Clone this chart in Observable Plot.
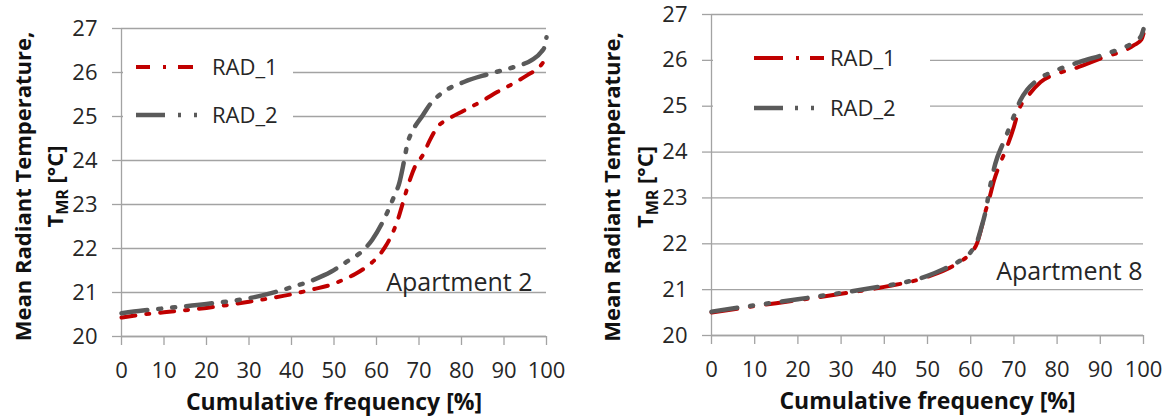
<!DOCTYPE html>
<html><head><meta charset="utf-8">
<script src="https://cdn.jsdelivr.net/npm/d3@7"></script>
<script src="https://cdn.jsdelivr.net/npm/@observablehq/plot@0.6"></script>
<style>
html,body{margin:0;padding:0;background:#fff;}
#wrap{display:flex;width:1170px;height:416px;}
#wrap > div{width:585px;height:416px;}
</style></head>
<body><div id="wrap"><div id="c1"></div><div id="c2"></div></div>
<script>
// ---- tick labels & texts ----
const xTicks = [0, 10, 20, 30, 40, 50, 60, 70, 80, 90, 100];
const yTicks = [20, 21, 22, 23, 24, 25, 26, 27];
const seriesNames = ["RAD_1", "RAD_2"];
const panelLabels = ["Apartment 2", "Apartment 8"];
const xTitle = "Cumulative frequency [%]";
const yTitle1 = "Mean Radiant Temperature,";
const yTitle2 = "TMR [°C]";
const yTitle2Sub = "MR";

// ---- Apartment 2 ----
const apt2Rad1X = [0, 5, 10, 20, 30, 40, 45, 50, 52.4, 55, 58, 60, 62, 64, 65, 66, 67, 68, 69, 71, 72.5, 74.5, 76.5, 80.5, 85, 88.5, 92, 95.5, 98, 99, 100];
const apt2Rad1Y = [20.43, 20.5, 20.55, 20.65, 20.79, 20.96, 21.07, 21.2, 21.3, 21.42, 21.61, 21.78, 22.03, 22.4, 22.65, 22.97, 23.3, 23.6, 23.85, 24.14, 24.45, 24.78, 24.92, 25.13, 25.36, 25.56, 25.74, 25.94, 26.1, 26.2, 26.38];
const apt2Rad2X = [0, 5, 10, 20, 30, 35, 40, 45, 49.3, 53, 57.2, 59, 62, 64.2, 65.4, 66.2, 66.7, 67.2, 68.6, 70.9, 72.7, 75.2, 80.7, 86.2, 92.5, 96.5, 98.8, 99.6, 100];
const apt2Rad2Y = [20.53, 20.59, 20.64, 20.74, 20.87, 20.98, 21.12, 21.28, 21.47, 21.7, 21.99, 22.2, 22.71, 23.2, 23.5, 23.85, 24.1, 24.35, 24.69, 25.03, 25.29, 25.52, 25.79, 25.96, 26.13, 26.28, 26.47, 26.6, 26.8];

// ---- Apartment 8 ----
const apt8Rad1X = [0, 10, 20, 30, 40, 50, 57, 60, 61.5, 62.5, 63.4, 64.2, 65.4, 66.8, 68.1, 70, 71.1, 73.1, 76.2, 80, 83.9, 90, 97.8, 99.5, 100];
const apt8Rad1Y = [20.5, 20.64, 20.77, 20.91, 21.06, 21.28, 21.58, 21.8, 22.02, 22.35, 22.7, 22.95, 23.38, 23.75, 24.04, 24.55, 24.91, 25.2, 25.53, 25.71, 25.82, 26.04, 26.33, 26.45, 26.58];
const apt8Rad2X = [0, 10, 20, 30, 40, 43.7, 50, 53.8, 57, 60, 61.5, 62.3, 63.4, 64.6, 65.7, 67.3, 68.4, 70.4, 71.5, 73.1, 75.4, 80, 85.4, 91.6, 97.8, 99.4, 100];
const apt8Rad2Y = [20.52, 20.66, 20.79, 20.93, 21.08, 21.14, 21.3, 21.45, 21.6, 21.82, 22.05, 22.3, 22.69, 23.3, 23.75, 24.15, 24.4, 24.88, 25.13, 25.36, 25.57, 25.79, 25.97, 26.15, 26.4, 26.52, 26.68];

const RED = "#c00000", GRAY = "#5a5a5a", GRID = "#a3a3a3", TXT = "#262626";
const FONT = "'Open Sans', 'Noto Sans', sans-serif";

function makeChart(cfg) {
  const d1 = cfg.x1.map((x, i) => ({x, y: cfg.y1[i]}));
  const d2 = cfg.x2.map((x, i) => ({x, y: cfg.y2[i]}));
  const plot = Plot.plot({
    width: 585, height: 416,
    marginLeft: cfg.ml, marginRight: cfg.mr, marginTop: cfg.mt, marginBottom: cfg.mb,
    style: {fontFamily: FONT, fontSize: "22px", color: TXT, background: "#fff"},
    x: {domain: [0, 100]},
    y: {domain: [20, 27]},
    marks: [
      Plot.gridY(yTicks, {stroke: GRID, strokeOpacity: 1, strokeWidth: 1.3}),
      Plot.axisY(yTicks, {tickSize: 9, tickPadding: 15, stroke: GRID, strokeOpacity: 1, strokeWidth: 1.3, fill: TXT, fontSize: 22, label: null, tickFormat: d => String(d)}),
      Plot.axisX(xTicks, {tickSize: 9, tickPadding: 17, stroke: GRID, strokeOpacity: 1, strokeWidth: 1.3, fill: TXT, fontSize: 22, label: null, tickFormat: d => String(d)}),
      Plot.ruleX([0], {stroke: GRID, strokeWidth: 1.3}),
      Plot.ruleY([20], {stroke: GRID, strokeWidth: 1.3}),
      Plot.line(d1, {x: "x", y: "y", stroke: RED, strokeWidth: 4, strokeDasharray: cfg.dash1, curve: "monotone-x"}),
      Plot.line(d2, {x: "x", y: "y", stroke: GRAY, strokeWidth: 4.5, strokeDasharray: cfg.dash2, curve: "monotone-x"}),
      Plot.text([cfg.label], {text: d => d, frameAnchor: "bottom-right", textAnchor: "end", lineAnchor: "middle", dx: cfg.ldx, dy: cfg.ldy, fontSize: 25, fill: TXT}),
      Plot.text([xTitle], {text: d => d, frameAnchor: "bottom", textAnchor: "middle", lineAnchor: "middle", dy: 66, fontWeight: "bold", fontSize: 23, fill: "#111"}),
      Plot.text([yTitle1], {text: d => d, frameAnchor: "left", textAnchor: "middle", lineAnchor: "middle", dx: cfg.t1dx, dy: cfg.tdy, rotate: -90, fontWeight: "bold", fontSize: 22, fill: "#111"}),
      Plot.text([yTitle2], {text: d => d, frameAnchor: "left", textAnchor: "middle", lineAnchor: "middle", dx: cfg.t2dx, dy: cfg.tdy, rotate: -90, fontWeight: "bold", fontSize: 22, fill: "#111", className: "ysub"})
    ]
  });
  const svg = d3.select(plot);
  // subscript in the second y-title line
  svg.selectAll(".ysub text").each(function() {
    const t = d3.select(this);
    const s = t.text();
    const i = s.indexOf(yTitle2Sub);
    t.text(null);
    t.append("tspan").text(s.slice(0, i));
    t.append("tspan").attr("font-size", 16).attr("dy", 5).text(yTitle2Sub);
    t.append("tspan").attr("dy", -5).text(s.slice(i + yTitle2Sub.length));
  });
  // legend
  const L = cfg.legend;
  const g = svg.append("g").attr("text-anchor", "start");
  g.append("rect").attr("x", L.bx).attr("y", L.by).attr("width", L.bw).attr("height", L.bh).attr("fill", "#fff");
  const items = [
    {name: seriesNames[0], color: RED, w: 4, dash: L.dash1, x2: L.x2a, y: L.y1},
    {name: seriesNames[1], color: GRAY, w: 4.5, dash: L.dash2, x2: L.x2b, y: L.y2}
  ];
  items.forEach(it => {
    g.append("line").attr("x1", L.sx).attr("x2", it.x2).attr("y1", it.y).attr("y2", it.y)
      .attr("stroke", it.color).attr("stroke-width", it.w).attr("stroke-dasharray", it.dash);
    g.append("text").attr("x", L.tx).attr("y", it.y).attr("dy", "0.35em").attr("text-anchor", "start")
      .attr("font-family", FONT).attr("font-size", 22).attr("fill", TXT).text(it.name);
  });
  return plot;
}

document.getElementById("c1").appendChild(makeChart({
  x1: apt2Rad1X, y1: apt2Rad1Y, x2: apt2Rad2X, y2: apt2Rad2Y,
  ml: 121, mr: 39, mt: 28, mb: 80,
  dash1: "14,11,3,11", dash2: "26,11,3,11,3,11",
  label: panelLabels[0], ldx: -14, ldy: -54,
  t1dx: -98, t2dx: -66, tdy: 4,
  legend: {bx: 123, by: 40, bw: 170, bh: 100, sx: 136, x2a: 193, x2b: 198, y1: 67, y2: 115, tx: 212,
           dash1: "14,13,3,12,15", dash2: "29,13,3,13,3"}
}));
document.getElementById("c2").appendChild(makeChart({
  x1: apt8Rad1X, y1: apt8Rad1Y, x2: apt8Rad2X, y2: apt8Rad2Y,
  ml: 126, mr: 27, mt: 14, mb: 81,
  dash1: "26,13,3,13", dash2: "26,13,3,13,3,13",
  label: panelLabels[1], ldx: -1, ldy: -64,
  t1dx: -99, t2dx: -66, tdy: 12,
  legend: {bx: 128, by: 30, bw: 217, bh: 100, sx: 169, x2a: 239, x2b: 230, y1: 58, y2: 108, tx: 245,
           dash1: "29,13,3,11,14", dash2: "29,12,3,13,3"}
}));
</script>
</body></html>
